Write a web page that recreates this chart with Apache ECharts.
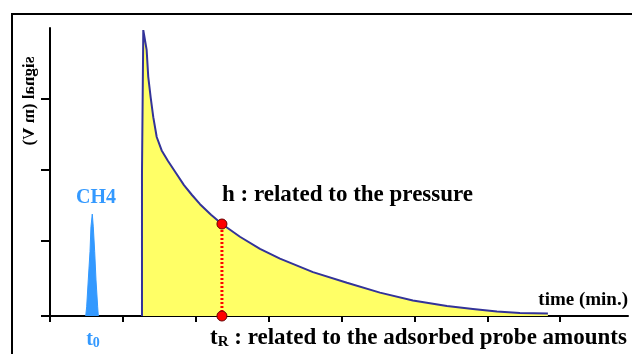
<!DOCTYPE html>
<html>
<head>
<meta charset="utf-8">
<script src="https://cdn.jsdelivr.net/npm/echarts@6/dist/echarts.min.js"></script>
<style>
  html, body { margin: 0; padding: 0; background: #fff; }
  #chart { width: 632px; height: 354px; }
</style>
</head>
<body>
<div id="chart"></div>
<script>
// Methane (dead-time) peak: [time, signal]
const ch4Peak = [
  [0.490, 0], [0.503, 0.13], [0.525, 0.51], [0.549, 0.91], [0.562, 1.26],
  [0.580, 1.44], [0.594, 1.26], [0.613, 0.91], [0.631, 0.51], [0.654, 0.13],
  [0.663, 0]
];

// Probe peak with its long tail: [time, signal]
const probePeak = [
  [1.262, 0], [1.262, 2.03], [1.280, 4.04], [1.326, 3.76], [1.348, 3.38],
  [1.381, 3.09], [1.417, 2.81], [1.464, 2.53], [1.532, 2.34], [1.619, 2.19],
  [1.728, 2.02], [1.838, 1.85], [1.948, 1.71], [2.058, 1.58], [2.209, 1.43],
  [2.359, 1.30], [2.606, 1.12], [2.881, 0.95], [3.155, 0.81], [3.608, 0.62],
  [4.074, 0.47], [4.527, 0.33], [4.979, 0.22], [5.446, 0.14], [5.802, 0.10],
  [6.132, 0.064], [6.447, 0.042], [6.831, 0.035]
];

// Retention time and peak height marker
const retentionTime = 2.359;
const peakHeight = 1.30;

// Axis ticks
const xTicks = [0, 1, 2, 3, 4, 5, 6, 7];
const yTicks = [0, 1.07, 2.07, 3.07];

const FONT = '"Liberation Serif", "Times New Roman", serif';

const chart = echarts.init(document.getElementById('chart'), null, { renderer: 'canvas' });

chart.setOption({
  animation: false,
  backgroundColor: '#ffffff',
  grid: { left: 50, right: 4, top: 28, bottom: 38, containLabel: false },
  xAxis: {
    type: 'value', min: 0, max: 7.93,
    axisLine: { show: true, lineStyle: { color: '#000', width: 2 } },
    axisTick: { show: true, inside: false, length: 6, customValues: xTicks,
                lineStyle: { color: '#000', width: 2 } },
    axisLabel: { show: false },
    splitLine: { show: false }
  },
  yAxis: {
    type: 'value', min: 0, max: 4.07,
    axisLine: { show: true, onZero: false, lineStyle: { color: '#000', width: 2 } },
    axisTick: { show: true, inside: false, length: 9, customValues: yTicks,
                lineStyle: { color: '#000', width: 2 } },
    axisLabel: { show: false },
    splitLine: { show: false }
  },
  series: [
    {
      name: 'CH4',
      type: 'line',
      data: ch4Peak,
      symbol: 'none',
      lineStyle: { color: '#3399ff', width: 1 },
      areaStyle: { color: '#3399ff', opacity: 1 },
      z: 2
    },
    {
      name: 'probe',
      type: 'line',
      data: probePeak,
      symbol: 'none',
      lineStyle: { color: '#333399', width: 2 },
      areaStyle: { color: '#ffff66', opacity: 1 },
      z: 2
    },
    {
      name: 'tR',
      type: 'line',
      data: [[retentionTime, 0], [retentionTime, peakHeight]],
      symbol: 'circle',
      symbolSize: 10,
      itemStyle: { color: '#ff0000', borderColor: '#660000', borderWidth: 1 },
      lineStyle: { color: '#ff0000', width: 3, type: [2, 2] },
      z: 5
    }
  ],
  graphic: [
    // outer frame (left and top edges)
    { type: 'line', shape: { x1: 12, y1: 14, x2: 12, y2: 354 },
      style: { stroke: '#000', lineWidth: 2 } },
    { type: 'line', shape: { x1: 11, y1: 14, x2: 632, y2: 14 },
      style: { stroke: '#000', lineWidth: 2 } },
    // y axis title (flipped vertical text, reading downward)
    { type: 'text', x: 29.5, y: 101, rotation: -Math.PI / 2, scaleY: -1,
      style: { text: 'signal (m V)', font: 'bold 17px ' + FONT, fill: '#000',
               align: 'center', verticalAlign: 'middle' } },
    // x axis title
    { type: 'text', x: 628, y: 300,
      style: { text: 'time (min.)', font: 'bold 19px ' + FONT, fill: '#000',
               align: 'right', verticalAlign: 'middle' } },
    // CH4 label
    { type: 'text', x: 96, y: 198,
      style: { text: 'CH4', font: 'bold 20px ' + FONT, fill: '#3399ff',
               align: 'center', verticalAlign: 'middle' } },
    // t0 label
    { type: 'text', x: 93, y: 340,
      style: { text: '{a|t}{b|0}', align: 'center', verticalAlign: 'middle',
               rich: {
                 a: { font: 'bold 20px ' + FONT, fill: '#3399ff', verticalAlign: 'bottom', lineHeight: 20 },
                 b: { font: 'bold 14px ' + FONT, fill: '#3399ff', verticalAlign: 'bottom', lineHeight: 14 }
               } } },
    // height annotation
    { type: 'text', x: 222, y: 195,
      style: { text: 'h : related to the pressure', font: 'bold 23px ' + FONT, fill: '#000',
               align: 'left', verticalAlign: 'middle' } },
    // retention time annotation
    { type: 'text', x: 210, y: 338,
      style: { text: '{a|t}{b|R}{a| : related to the adsorbed probe amounts}',
               align: 'left', verticalAlign: 'middle',
               rich: {
                 a: { font: 'bold 23px ' + FONT, fill: '#000', verticalAlign: 'bottom', lineHeight: 23 },
                 b: { font: 'bold 15px ' + FONT, fill: '#000', verticalAlign: 'bottom', lineHeight: 15 }
               } } }
  ]
});
</script>
</body>
</html>
